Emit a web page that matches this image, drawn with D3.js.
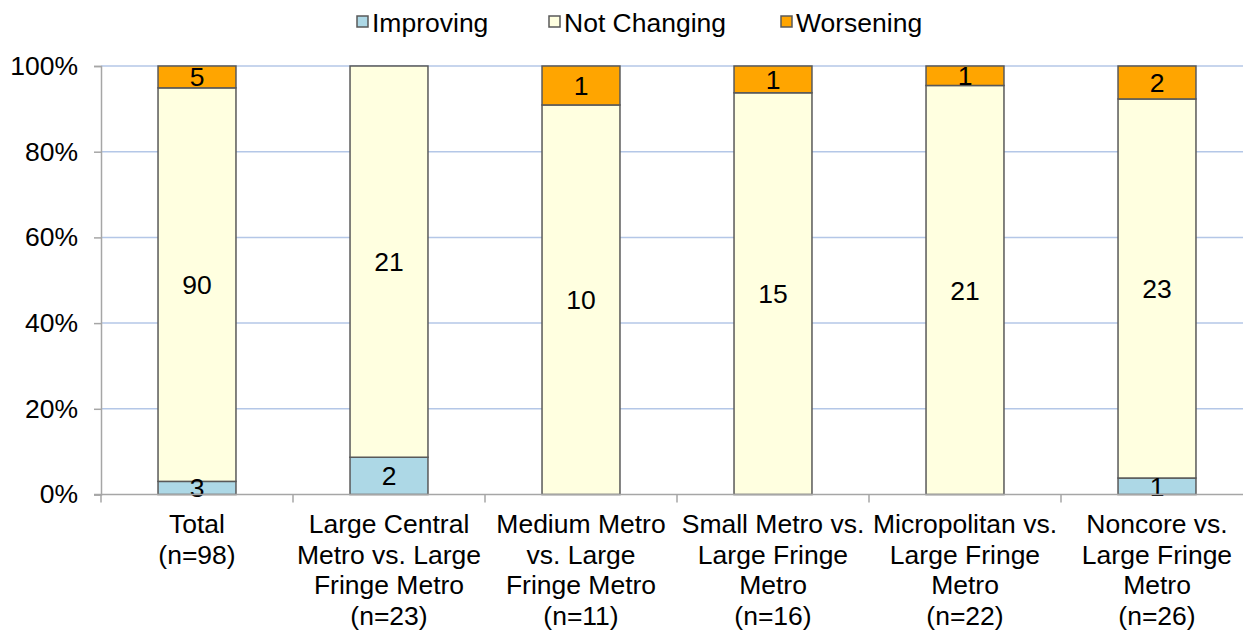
<!DOCTYPE html>
<html>
<head>
<meta charset="utf-8">
<script src="https://cdn.jsdelivr.net/npm/d3@7/dist/d3.min.js"></script>
<style>
  html, body { margin: 0; padding: 0; background: #fff; }
  svg { display: block; font-family: "Liberation Sans", Arial, sans-serif; }
</style>
</head>
<body>
<svg id="chart" width="1243" height="631"></svg>
<script>
// Category labels, one array per wrapped line
const categories = [
  ["Total", "(n=98)"],
  ["Large Central", "Metro vs. Large", "Fringe Metro", "(n=23)"],
  ["Medium Metro", "vs. Large", "Fringe Metro", "(n=11)"],
  ["Small Metro vs.", "Large Fringe", "Metro", "(n=16)"],
  ["Micropolitan vs.", "Large Fringe", "Metro", "(n=22)"],
  ["Noncore vs.", "Large Fringe", "Metro", "(n=26)"]
];
const seriesNames = ["Improving", "Not Changing", "Worsening"];
const improving   = [3, 2, 0, 0, 0, 1];
const notChanging = [90, 21, 10, 15, 21, 23];
const worsening   = [5, 0, 1, 1, 1, 2];
const yTicks = [0, 0.2, 0.4, 0.6, 0.8, 1.0];
const colors = ["#add8e6", "#ffffe0", "#ffa500"];

const svg = d3.select("#chart");
const margin = { left: 101, right: 1253, top: 66, bottom: 494.5 };
const fontSize = 26.5;

const rows = categories.map((c, i) => {
  const total = improving[i] + notChanging[i] + worsening[i];
  return { key: i, total, vals: [improving[i], notChanging[i], worsening[i]] };
});

const x = d3.scaleBand()
  .domain(d3.range(categories.length))
  .range([margin.left, margin.right])
  .paddingInner(0.594)
  .paddingOuter(0.297);

const y = d3.scaleLinear().domain([0, 1]).range([margin.bottom, margin.top]);

// Gridlines
svg.append("g")
  .selectAll("line")
  .data(yTicks.filter(t => t > 0))
  .join("line")
  .attr("x1", margin.left).attr("x2", margin.right)
  .attr("y1", d => y(d)).attr("y2", d => y(d))
  .attr("stroke", "#b4c7e7").attr("stroke-width", 1.5);

// Stacked shares
const stackData = rows.map(r => {
  const o = { key: r.key };
  seriesNames.forEach((s, j) => { o[s] = r.vals[j] / r.total; o[s + "_n"] = r.vals[j]; });
  return o;
});
const stack = d3.stack().keys(seriesNames)(stackData);

const layers = svg.append("g")
  .selectAll("g")
  .data(stack)
  .join("g")
  .attr("fill", (d, i) => colors[i]);

layers.selectAll("rect")
  .data(d => d.filter(s => s[1] - s[0] > 0))
  .join("rect")
  .attr("x", d => x(d.data.key))
  .attr("width", x.bandwidth())
  .attr("y", d => y(d[1]))
  .attr("height", d => y(d[0]) - y(d[1]))
  .attr("stroke", "#595959")
  .attr("stroke-width", 1.5);

// Value labels
stack.forEach(layer => {
  svg.append("g")
    .selectAll("text")
    .data(layer.filter(s => s[1] - s[0] > 0))
    .join("text")
    .attr("x", d => x(d.data.key) + x.bandwidth() / 2)
    .attr("y", d => (y(d[0]) + y(d[1])) / 2)
    .attr("dy", "0.36em")
    .attr("text-anchor", "middle")
    .attr("font-size", fontSize)
    .attr("fill", "#000")
    .text(d => d.data[layer.key + "_n"]);
});

// Y axis
const yAxis = svg.append("g")
  .attr("transform", `translate(${margin.left},0)`)
  .call(d3.axisLeft(y).tickValues(yTicks).tickFormat(d3.format(".0%")).tickSizeOuter(0).tickSize(7).tickPadding(16));
yAxis.select(".domain").attr("stroke", "#a6a6a6").attr("stroke-width", 1.5);
yAxis.selectAll(".tick line").attr("stroke", "#a6a6a6").attr("stroke-width", 1.5);
yAxis.selectAll(".tick text")
  .attr("font-size", fontSize).attr("fill", "#000")
  .attr("font-family", "Liberation Sans, Arial, sans-serif");

// X axis baseline and category dividers
const xg = svg.append("g");
xg.append("line")
  .attr("x1", margin.left - 7).attr("x2", margin.right)
  .attr("y1", y(0)).attr("y2", y(0))
  .attr("stroke", "#a6a6a6").attr("stroke-width", 1.5);
const step = x.step();
xg.selectAll("line.div")
  .data(d3.range(categories.length + 1))
  .join("line")
  .attr("class", "div")
  .attr("x1", i => margin.left + i * step).attr("x2", i => margin.left + i * step)
  .attr("y1", y(0)).attr("y2", y(0) + 8)
  .attr("stroke", "#a6a6a6").attr("stroke-width", 1.5);

// Category labels
const lab = xg.selectAll("text.cat")
  .data(categories)
  .join("text")
  .attr("class", "cat")
  .attr("text-anchor", "middle")
  .attr("font-size", fontSize)
  .attr("fill", "#000");
lab.selectAll("tspan")
  .data((d, i) => d.map(line => ({ line, i })))
  .join("tspan")
  .attr("x", d => x(d.i) + x.bandwidth() / 2)
  .attr("y", (d, k) => 533 + k * 30.6)
  .text(d => d.line);

// Legend
const legendX = [357, 549, 781];
const leg = svg.append("g");
seriesNames.forEach((s, i) => {
  leg.append("rect")
    .attr("x", legendX[i]).attr("y", 16).attr("width", 11).attr("height", 11)
    .attr("fill", colors[i]).attr("stroke", "#595959").attr("stroke-width", 1.5);
  leg.append("text")
    .attr("x", legendX[i] + 15).attr("y", 22).attr("dy", "0.36em")
    .attr("font-size", fontSize).attr("fill", "#000")
    .text(s);
});
</script>
</body>
</html>
